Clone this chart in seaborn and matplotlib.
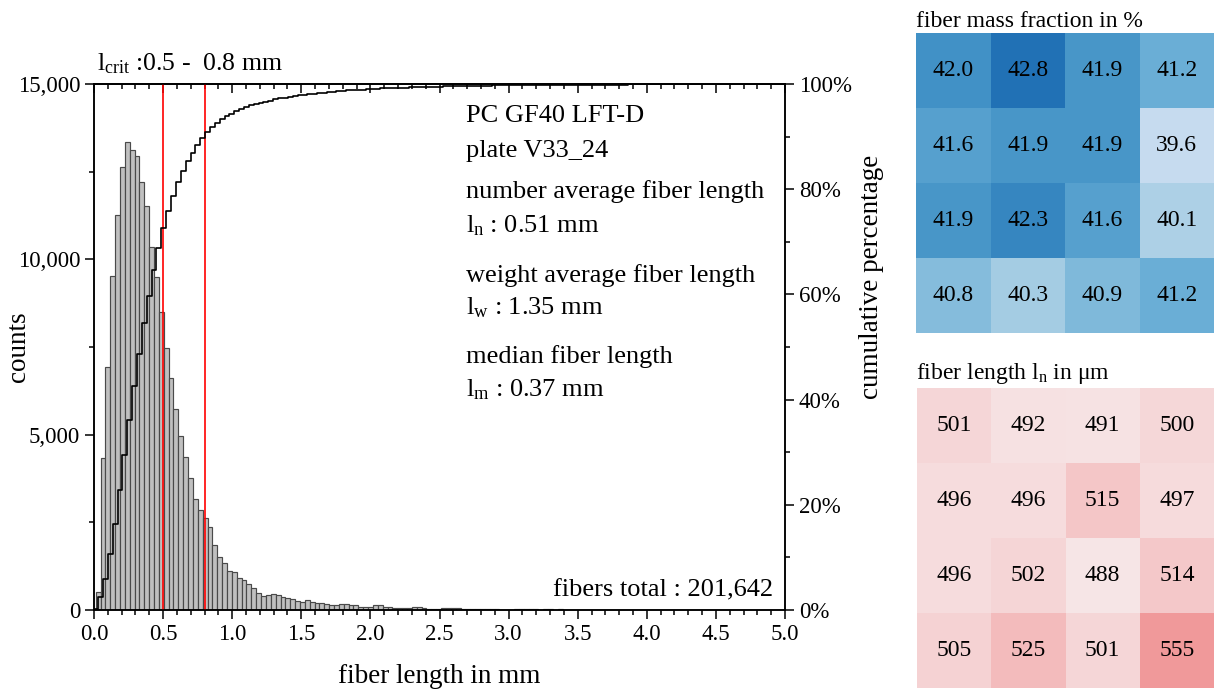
import numpy as np
import pandas as pd
import matplotlib
matplotlib.use("Agg")
import matplotlib.pyplot as plt
import matplotlib.ticker as mticker
from matplotlib.colors import LinearSegmentedColormap
import seaborn as sns

# ---------------- data ----------------
bin_start = 0.012      # mm, left edge of first bin
bin_width = 0.0352     # mm
counts = [
    522, 4343, 6929, 9533, 11272, 12623, 13354, 13126, 12937, 12213,
    11520, 10360, 9505, 8488, 7471, 6606, 5722, 4962, 4353, 3754,
    3165, 2851, 2614, 2376, 1853, 1500, 1340, 1100, 1070, 910,
    865, 755, 620, 485, 410, 440, 466, 428, 380, 342,
    304, 257, 219, 295, 228, 209, 200, 162, 143, 143,
    181, 171, 152, 133, 95, 95, 86, 143, 133, 95,
    86, 57, 48, 57, 67, 95, 76, 67, 38, 38,
    19, 48, 57, 57, 48, 29, 29, 29, 38, 38,
    29, 29, 29, 10, 10, 10, 19, 18, 16, 15,
    17, 14, 16, 15, 13, 15, 14, 12, 14, 13,
    12, 11, 13, 12, 11, 12, 10, 11, 10, 9,
    10, 9, 8, 9, 8, 9, 8, 7, 8, 7,
    7, 8, 6, 7, 6, 6, 7, 5, 6, 5,
    5, 4, 5, 5, 4, 5, 4, 4, 5, 4,
    4, 3,
]
fibers_total = 201642
l_crit = [0.5, 0.8]
info_lines = ["PC GF40 LFT-D", "plate V33_24",
              "number average fiber length", r"l$_\mathregular{n}$ : 0.51 mm",
              "weight average fiber length", r"l$_\mathregular{w}$ : 1.35 mm",
              "median fiber length", r"l$_\mathregular{m}$ : 0.37 mm"]

mass_fraction = [
    [42.0, 42.8, 41.9, 41.2],
    [41.6, 41.9, 41.9, 39.6],
    [41.9, 42.3, 41.6, 40.1],
    [40.8, 40.3, 40.9, 41.2],
]
fiber_length_um = [
    [501, 492, 491, 500],
    [496, 496, 515, 497],
    [496, 502, 488, 514],
    [505, 525, 501, 555],
]

# ---------------- style ----------------
sns.set_style("ticks")
plt.rcParams["font.family"] = ["Liberation Serif", "DejaVu Serif"]
plt.rcParams["mathtext.fontset"] = "custom"
plt.rcParams["mathtext.rm"] = "Liberation Serif"
plt.rcParams["mathtext.it"] = "Liberation Serif:italic"
plt.rcParams["axes.linewidth"] = 1.1
for k in ["text.color", "axes.labelcolor", "xtick.color", "ytick.color", "axes.edgecolor"]:
    plt.rcParams[k] = "black"

TICK_FS = 16.5
LABEL_FS = 19.5
TEXT_FS = 19
HM_FS = 17

fig = plt.figure(figsize=(12.14, 6.95), dpi=100)
W, H = 1214, 695

def fr(x0, y0, x1, y1):
    return [x0 / W, 1 - y1 / H, (x1 - x0) / W, (y1 - y0) / H]

ax = fig.add_axes(fr(94, 84, 785, 610))

n = len(counts)
edges = [float(e) for e in bin_start + bin_width * np.arange(n + 1)]
centers = [(a + b) / 2 for a, b in zip(edges[:-1], edges[1:])]
df = pd.DataFrame({"length": centers, "count": counts})

sns.histplot(data=df, x="length", weights="count", bins=edges, ax=ax,
             color="#c0c0c0", edgecolor="#4a4a4a", linewidth=0.85, alpha=1)

for xc in l_crit:
    ax.axvline(xc, color="red", lw=1.2, zorder=5)

ax.set_xlim(0, 5.0)
ax.set_ylim(0, 15000)
ax.xaxis.set_major_locator(mticker.MultipleLocator(0.5))
ax.xaxis.set_minor_locator(mticker.MultipleLocator(0.1))
ax.xaxis.set_major_formatter(mticker.FormatStrFormatter("%.1f"))
ax.yaxis.set_major_locator(mticker.MultipleLocator(5000))
ax.yaxis.set_minor_locator(mticker.MultipleLocator(2500))
ax.yaxis.set_major_formatter(mticker.FuncFormatter(lambda v, p: f"{v:,.0f}"))
ax.tick_params(which="major", direction="out", length=6.5, width=1.1, labelsize=TICK_FS)
ax.tick_params(which="minor", direction="out", length=3.5, width=1.1)
ax.set_xlabel("fiber length in mm", fontsize=LABEL_FS, labelpad=14)
ax.set_ylabel("counts", fontsize=LABEL_FS, va="center")
ax.yaxis.set_label_coords((19 - 94) / 691, 0.5)
for s in ax.spines.values():
    s.set_visible(True)

# top axis with inward ticks
top = ax.secondary_xaxis("top")
top.xaxis.set_major_locator(mticker.MultipleLocator(0.5))
top.xaxis.set_minor_locator(mticker.MultipleLocator(0.1))
top.tick_params(which="major", direction="in", length=6.5, width=1.1, labeltop=False)
top.tick_params(which="minor", direction="in", length=3.5, width=1.1)

# cumulative percentage
ax2 = ax.twinx()
cum = np.cumsum(counts) / np.sum(counts) * 100
cx = np.concatenate([[0.0], centers])
cy = np.concatenate([[0.0], cum])
sns.lineplot(x=cx, y=cy, ax=ax2, color="black", lw=1.2,
             drawstyle="steps-pre", sort=False, estimator=None)
ax2.set_ylim(0, 100)
ax2.set_xlim(0, 5.0)
ax2.yaxis.set_major_locator(mticker.MultipleLocator(20))
ax2.yaxis.set_minor_locator(mticker.MultipleLocator(10))
ax2.yaxis.set_major_formatter(mticker.FuncFormatter(lambda v, p: f"{v:.0f}%"))
ax2.tick_params(which="major", direction="out", length=6.5, width=1.1, labelsize=TICK_FS)
ax2.tick_params(which="minor", direction="out", length=3.5, width=1.1)
ax2.set_ylabel("")
ax2.text(1.125, 0.633, "cumulative percentage", transform=ax2.transAxes,
         rotation=90, ha="center", va="center", fontsize=LABEL_FS)

# annotations
baselines = [121.7, 156.7, 198, 232.7, 281.7, 314, 363, 396]
for txt, b in zip(info_lines, baselines):
    ax2.text(0.538, (610 - b) / 526, txt, transform=ax2.transAxes,
             ha="left", va="baseline", fontsize=TEXT_FS)
ax2.text(0.9826, (610 - 596.7) / 526, f"fibers total : {fibers_total:,}",
         transform=ax2.transAxes, ha="right", va="baseline", fontsize=TEXT_FS)
ax2.text(0.004, (610 - 70) / 526,
         r"l$_\mathregular{crit}$ :" + f"{l_crit[0]} -  {l_crit[1]} mm",
         transform=ax2.transAxes, ha="left", va="baseline", fontsize=18.5)

# heatmaps
hm1 = fig.add_axes(fr(916, 33, 1214, 333))
sns.heatmap(np.array(mass_fraction), ax=hm1, cmap="Blues", vmin=38.0, vmax=44.4,
            annot=True, fmt=".1f", cbar=False, square=False,
            annot_kws={"fontsize": HM_FS, "color": "black"},
            xticklabels=False, yticklabels=False)
hm1.tick_params(left=False, bottom=False)
fig.text(916 / W, 1 - 27 / H, "fiber mass fraction in %", ha="left",
         va="baseline", fontsize=HM_FS)

reds = LinearSegmentedColormap.from_list("pinks", ["#f7eeef", "#f09495"])
hm2 = fig.add_axes(fr(917, 388, 1214, 688))
sns.heatmap(np.array(fiber_length_um), ax=hm2, cmap=reds, vmin=480, vmax=560,
            annot=True, fmt="d", cbar=False,
            annot_kws={"fontsize": HM_FS, "color": "black"},
            xticklabels=False, yticklabels=False)
hm2.tick_params(left=False, bottom=False)
fig.text(916 / W, 1 - 379.3 / H, r"fiber length l$_\mathregular{n}$ in μm",
         ha="left", va="baseline", fontsize=HM_FS)

fig.savefig("out.png", dpi=100)
